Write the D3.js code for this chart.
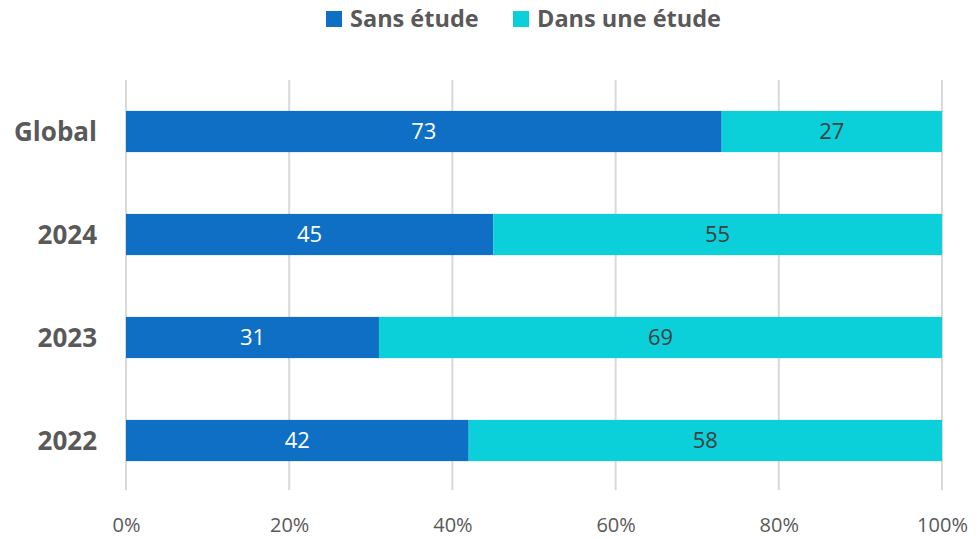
<!DOCTYPE html>
<html>
<head>
<meta charset="utf-8">
<script src="https://cdn.jsdelivr.net/npm/d3@7"></script>
<style>
  body { margin: 0; background: #fff; }
  text { font-family: "Open Sans", "Noto Sans", sans-serif; }
</style>
</head>
<body>
<div id="chart"></div>
<script>
var categories = ["Global", "2024", "2023", "2022"];
var sansEtude = [73, 45, 31, 42];
var dansEtude = [27, 55, 69, 58];
var seriesNames = ["Sans étude", "Dans une étude"];
var tickValues = [0, 20, 40, 60, 80, 100];

var w = 980, h = 539;
var colors = ["#0E6FC5", "#0BCFD9"];

var svg = d3.select("#chart").append("svg")
    .attr("width", w)
    .attr("height", h);

var x = d3.scaleLinear().domain([0, 100]).range([126, 942]);
var y = d3.scaleBand().domain(categories).range([80, 492]).paddingInner(0.6).paddingOuter(0.3);

// grid
svg.append("g").selectAll("line")
    .data(tickValues)
    .enter().append("line")
    .attr("x1", function(d) { return x(d); })
    .attr("x2", function(d) { return x(d); })
    .attr("y1", 80)
    .attr("y2", 490)
    .attr("stroke", "#d9d9d9")
    .attr("stroke-width", 2);

// axis
var xAxis = d3.axisBottom(x)
    .tickValues(tickValues)
    .tickSize(0)
    .tickPadding(0)
    .tickFormat(function(d) { return d + "%"; });

var ax = svg.append("g")
    .attr("transform", "translate(0,532)")
    .call(xAxis);
ax.select(".domain").remove();
ax.selectAll("text")
    .attr("font-size", 20)
    .attr("fill", "#595959")
    .attr("dy", 0);

// y labels
var yAxis = d3.axisLeft(y).tickSize(0).tickPadding(0);
var ay = svg.append("g")
    .attr("transform", "translate(97,0)")
    .call(yAxis);
ay.select(".domain").remove();
ay.selectAll("text")
    .attr("font-size", 26)
    .attr("font-weight", "bold")
    .attr("fill", "#595959")
    .attr("dy", "0.35em");

var rows = categories.map(function(c, i) {
  return { cat: c, a: sansEtude[i], b: dansEtude[i] };
});

var g = svg.append("g");
// blue bars
g.selectAll(".barA")
    .data(rows)
    .enter().append("rect")
    .attr("class", "barA")
    .attr("x", x(0))
    .attr("y", function(d) { return y(d.cat); })
    .attr("width", function(d) { return x(d.a) - x(0); })
    .attr("height", y.bandwidth())
    .attr("fill", colors[0]);

g.selectAll(".barB")
    .data(rows)
    .enter().append("rect")
    .attr("class", "barB")
    .attr("x", function(d) { return x(d.a); })
    .attr("y", function(d) { return y(d.cat); })
    .attr("width", function(d) { return x(d.a + d.b) - x(d.a); })
    .attr("height", y.bandwidth())
    .attr("fill", colors[1]);

g.selectAll(".labA")
    .data(rows)
    .enter().append("text")
    .attr("x", function(d) { return x(d.a / 2); })
    .attr("y", function(d) { return y(d.cat) + y.bandwidth() / 2; })
    .attr("dy", "0.36em")
    .attr("text-anchor", "middle")
    .attr("font-size", 22)
    .attr("fill", "#ffffff")
    .text(function(d) { return d.a; });

g.selectAll(".labB")
    .data(rows)
    .enter().append("text")
    .attr("x", function(d) { return x(d.a + d.b / 2); })
    .attr("y", function(d) { return y(d.cat) + y.bandwidth() / 2; })
    .attr("dy", "0.36em")
    .attr("text-anchor", "middle")
    .attr("font-size", 22)
    .attr("fill", "#404040")
    .text(function(d) { return d.b; });

// legend
var legX = [326, 513];
var leg = svg.append("g").selectAll("g")
    .data(seriesNames)
    .enter().append("g")
    .attr("transform", function(d, i) { return "translate(" + legX[i] + ",11)"; });
leg.append("rect")
    .attr("width", 16)
    .attr("height", 16)
    .attr("fill", function(d, i) { return colors[i]; });
leg.append("text")
    .attr("x", 24)
    .attr("y", 8)
    .attr("dy", "0.35em")
    .attr("font-size", 23.5)
    .attr("font-weight", "bold")
    .attr("fill", "#595959")
    .text(function(d) { return d; });
</script>
</body>
</html>
